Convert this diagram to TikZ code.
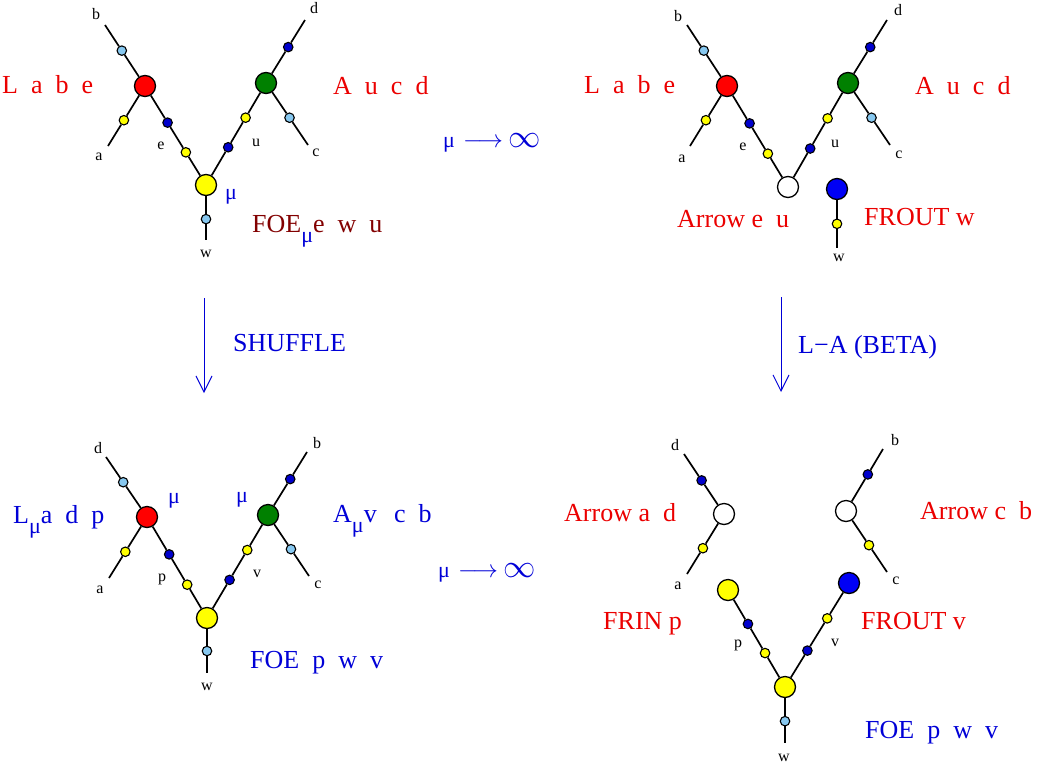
\documentclass[tikz,border=0pt]{standalone}
\usepackage{fontspec}
\setmainfont{Liberation Serif}
\usetikzlibrary{positioning, calc, arrows.meta}
\definecolor{nred}{RGB}{255,0,0}
\definecolor{ngreen}{RGB}{0,128,0}
\definecolor{nyellow}{RGB}{255,255,0}
\definecolor{nblue}{RGB}{0,0,245}
\definecolor{ndblue}{RGB}{0,0,205}
\definecolor{nlblue}{RGB}{135,200,240}
\definecolor{txtred}{RGB}{235,0,0}
\definecolor{txtdred}{RGB}{130,0,0}
\definecolor{txtblue}{RGB}{0,0,215}
\newcommand{\musub}{\raisebox{-10pt}{\textcolor{txtblue}{\fontsize{22}{24}\selectfont μ}}}
\newcommand{\mulim}{{\fontsize{22}{24}\selectfont μ}\hspace{8pt}%
  {\fontsize{24.88}{28}\selectfont$\longrightarrow$}\hspace{5pt}%
  {\fontsize{24.88}{28}\selectfont\scalebox{1.3}{$\infty$}}}

\begin{document}
\begin{tikzpicture}[
    x=1pt, y=-1pt,
    >={Straight Barb[length=16pt, width=16pt]},
    % --- node styles ---
    vtx/.style  ={circle, draw, line width=1.3pt, minimum size=21pt, inner sep=0pt},
    dot/.style  ={circle, draw, line width=1.1pt, minimum size=9.5pt, inner sep=0pt},
    lbl/.style  ={font=\fontsize{16}{18}\selectfont, inner sep=0pt},
    big/.style  ={font=\fontsize{26}{30}\selectfont, inner sep=0pt, anchor=base west},
    mutxt/.style={font=\fontsize{22}{24}\selectfont, text=txtblue, inner sep=0pt},
    % --- wire styles ---
    wire/.style ={line width=1.7pt},
    move/.style ={->, line width=1pt, draw=txtblue},
]
\useasboundingbox (0,0) rectangle (1041,764);

% =============== top left ===============
\coordinate (tlb) at (105,25);
\coordinate (tla) at (108,146);
\coordinate (tld) at (305,20);
\coordinate (tlc) at (308,145);
\coordinate (tlw) at (206,240);
\node[vtx, fill=nred]    (tlL) at (145,86)  {};
\node[vtx, fill=ngreen]  (tlA) at (266,83)  {};
\node[vtx, fill=nyellow] (tlF) at (206,185) {};
\node[dot, fill=nlblue]  (tlb1) at ($(tlL)!0.58!(tlb)$) {};
\node[dot, fill=nyellow] (tla1) at ($(tlL)!0.57!(tla)$) {};
\node[dot, fill=ndblue]  (tle1) at ($(tlL)!0.37!(tlF)$) {};
\node[dot, fill=nyellow] (tle2) at ($(tlL)!0.67!(tlF)$) {};
\node[dot, fill=ndblue]  (tld1) at ($(tlA)!0.57!(tld)$) {};
\node[dot, fill=nlblue]  (tlc1) at ($(tlA)!0.56!(tlc)$) {};
\node[dot, fill=nyellow] (tlu1) at ($(tlA)!0.34!(tlF)$) {};
\node[dot, fill=ndblue]  (tlu2) at ($(tlA)!0.63!(tlF)$) {};
\node[dot, fill=nlblue]  (tlw1) at ($(tlF)!0.62!(tlw)$) {};
\draw[wire] (tlb) -- (tlb1) -- (tlL) -- (tla1) -- (tla);
\draw[wire] (tlL) -- (tle1) -- (tle2) -- (tlF) -- (tlu2) -- (tlu1) -- (tlA);
\draw[wire] (tld) -- (tld1) -- (tlA) -- (tlc1) -- (tlc);
\draw[wire] (tlF) -- (tlw1) -- (tlw);
\node[lbl] (tlbl) at (96,14)  {b};
\node[lbl] (tlal) at (99,157) {a};
\node[lbl] (tlel) at (161,146) {e};
\node[lbl] (tlul) at (256,143) {u};
\node[lbl] (tlcl) at (316,153) {c};
\node[lbl] (tldl) at (314,8)  {d};
\node[lbl] (tlwl) at (206,254) {w};
\node[mutxt] (tlmu) at (231,197) {μ};
\node[big, text=txtred]  (tlLt) at (2,93)    {L\ \ a\ \ b\ \ e};
\node[big, text=txtred]  (tlAt) at (333,94)  {A\ \ u\ \ c\ \ d};
\node[big, text=txtdred] (tlFt) at (252,232) {FOE\musub e\ \ w\ \ u};

% =============== top right ===============
\coordinate (trb) at (687,25);
\coordinate (tra) at (690,146);
\coordinate (trd) at (887,20);
\coordinate (trc) at (890,145);
\coordinate (trw) at (837,248);
\node[vtx, fill=nred]   (trL) at (727,86)  {};
\node[vtx, fill=ngreen] (trA) at (848,83)  {};
\node[vtx, fill=white]  (trX) at (788,187) {};
\node[vtx, fill=nblue]  (trB) at (837,189) {};
\node[dot, fill=nlblue]  (trb1) at ($(trL)!0.58!(trb)$) {};
\node[dot, fill=nyellow] (tra1) at ($(trL)!0.57!(tra)$) {};
\node[dot, fill=ndblue]  (tre1) at ($(trL)!0.37!(trX)$) {};
\node[dot, fill=nyellow] (tre2) at ($(trL)!0.67!(trX)$) {};
\node[dot, fill=ndblue]  (trd1) at ($(trA)!0.57!(trd)$) {};
\node[dot, fill=nlblue]  (trc1) at ($(trA)!0.56!(trc)$) {};
\node[dot, fill=nyellow] (tru1) at ($(trA)!0.34!(trX)$) {};
\node[dot, fill=ndblue]  (tru2) at ($(trA)!0.63!(trX)$) {};
\node[dot, fill=nyellow] (trw1) at ($(trB)!0.59!(trw)$) {};
\draw[wire] (trb) -- (trb1) -- (trL) -- (tra1) -- (tra);
\draw[wire] (trL) -- (tre1) -- (tre2) -- (trX) -- (tru2) -- (tru1) -- (trA);
\draw[wire] (trd) -- (trd1) -- (trA) -- (trc1) -- (trc);
\draw[wire] (trB) -- (trw1) -- (trw);
\node[lbl] (trbl) at (678,16)  {b};
\node[lbl] (tral) at (682,159) {a};
\node[lbl] (trel) at (743,147) {e};
\node[lbl] (trul) at (835,144) {u};
\node[lbl] (trcl) at (899,155) {c};
\node[lbl] (trdl) at (898,10)  {d};
\node[lbl] (trwl) at (839,258) {w};
\node[big, text=txtred] (trLt) at (584,93)  {L\ \ a\ \ b\ \ e};
\node[big, text=txtred] (trAt) at (915,94)  {A\ \ u\ \ c\ \ d};
\node[big, text=txtred] (trXt) at (677,227) {Arrow e\ \ u};
\node[big, text=txtred] (trBt) at (864,225) {FROUT w};

% =============== limits and moves ===============
\node[big, text=txtblue] (lim1) at (443,147) {\mulim};
\node[big, text=txtblue] (lim2) at (438,577) {\mulim};
\coordinate (shtop) at (204,298);
\coordinate (shbot) at (204,393);
\coordinate (latop) at (781,297);
\coordinate (labot) at (781,392);
\draw[move] (shtop) -- (shbot);
\draw[move] (latop) -- (labot);
\node[big, text=txtblue] (shuf) at (233,351) {SHUFFLE};
\node[big, text=txtblue] (beta) at (798,353) {L−A (BETA)};

% =============== bottom left ===============
\coordinate (bld) at (106,457);
\coordinate (bla) at (109,578);
\coordinate (blb) at (307,452);
\coordinate (blc) at (309,576);
\coordinate (blw) at (207,673);
\node[vtx, fill=nred]    (blL) at (147,517) {};
\node[vtx, fill=ngreen]  (blA) at (268,515) {};
\node[vtx, fill=nyellow] (blF) at (207,618) {};
\node[dot, fill=nlblue]  (bld1) at ($(blL)!0.58!(bld)$) {};
\node[dot, fill=nyellow] (bla1) at ($(blL)!0.57!(bla)$) {};
\node[dot, fill=ndblue]  (blp1) at ($(blL)!0.37!(blF)$) {};
\node[dot, fill=nyellow] (blp2) at ($(blL)!0.67!(blF)$) {};
\node[dot, fill=ndblue]  (blb1) at ($(blA)!0.57!(blb)$) {};
\node[dot, fill=nlblue]  (blc1) at ($(blA)!0.56!(blc)$) {};
\node[dot, fill=nyellow] (blv1) at ($(blA)!0.34!(blF)$) {};
\node[dot, fill=ndblue]  (blv2) at ($(blA)!0.63!(blF)$) {};
\node[dot, fill=nlblue]  (blw1) at ($(blF)!0.6!(blw)$) {};
\draw[wire] (bld) -- (bld1) -- (blL) -- (bla1) -- (bla);
\draw[wire] (blL) -- (blp1) -- (blp2) -- (blF) -- (blv2) -- (blv1) -- (blA);
\draw[wire] (blb) -- (blb1) -- (blA) -- (blc1) -- (blc);
\draw[wire] (blF) -- (blw1) -- (blw);
\node[lbl] (bldl) at (98,448)  {d};
\node[lbl] (blal) at (100,590) {a};
\node[lbl] (blpl) at (162,579) {p};
\node[lbl] (blvl) at (257,574) {v};
\node[lbl] (blbl) at (317,443) {b};
\node[lbl] (blcl) at (318,585) {c};
\node[lbl] (blwl) at (207,687) {w};
\node[mutxt] (blmu1) at (174,501) {μ};
\node[mutxt] (blmu2) at (242,500) {μ};
\node[big, text=txtblue] (blLt) at (13,523)  {L\musub a\ \ d\ \ p};
\node[big, text=txtblue] (blAt) at (333,522) {A\musub v\ \ \,c\ \ b};
\node[big, text=txtblue] (blFt) at (250,668) {FOE\ \ p\ \ w\ \ v};

% =============== bottom right ===============
\coordinate (brd) at (684,454);
\coordinate (bra) at (687,574);
\coordinate (brb) at (883,449);
\coordinate (brc) at (887,572);
\coordinate (brw) at (785,743);
\node[vtx, fill=white]   (brX1) at (724,514) {};
\node[vtx, fill=white]   (brX2) at (846,511) {};
\node[vtx, fill=nyellow] (brI)  at (728,590) {};
\node[vtx, fill=nblue]   (brO)  at (849,583) {};
\node[vtx, fill=nyellow] (brF)  at (785,687) {};
\node[dot, fill=ndblue]  (brd1) at ($(brX1)!0.56!(brd)$) {};
\node[dot, fill=nyellow] (bra1) at ($(brX1)!0.57!(bra)$) {};
\node[dot, fill=ndblue]  (brb1) at ($(brX2)!0.59!(brb)$) {};
\node[dot, fill=nyellow] (brc1) at ($(brX2)!0.56!(brc)$) {};
\node[dot, fill=ndblue]  (brp1) at ($(brI)!0.35!(brF)$) {};
\node[dot, fill=nyellow] (brp2) at ($(brI)!0.65!(brF)$) {};
\node[dot, fill=nyellow] (brv1) at ($(brO)!0.34!(brF)$) {};
\node[dot, fill=ndblue]  (brv2) at ($(brO)!0.65!(brF)$) {};
\node[dot, fill=nlblue]  (brw1) at ($(brF)!0.61!(brw)$) {};
\draw[wire] (brd) -- (brd1) -- (brX1) -- (bra1) -- (bra);
\draw[wire] (brb) -- (brb1) -- (brX2) -- (brc1) -- (brc);
\draw[wire] (brI) -- (brp1) -- (brp2) -- (brF) -- (brv2) -- (brv1) -- (brO);
\draw[wire] (brF) -- (brw1) -- (brw);
\node[lbl] (brdl) at (675,445) {d};
\node[lbl] (bral) at (678,586) {a};
\node[lbl] (brbl) at (895,440) {b};
\node[lbl] (brcl) at (896,581) {c};
\node[lbl] (brpl) at (738,645) {p};
\node[lbl] (brvl) at (835,643) {v};
\node[lbl] (brwl) at (784,758) {w};
\node[big, text=txtred]  (brX1t) at (564,521) {Arrow a\ \ d};
\node[big, text=txtred]  (brX2t) at (920,519) {Arrow c\ \ b};
\node[big, text=txtred]  (brIt)  at (603,629) {FRIN p};
\node[big, text=txtred]  (brOt)  at (861,629) {FROUT v};
\node[big, text=txtblue] (brFt)  at (865,738) {FOE\ \ p\ \ w\ \ v};

\end{tikzpicture}
\end{document}
